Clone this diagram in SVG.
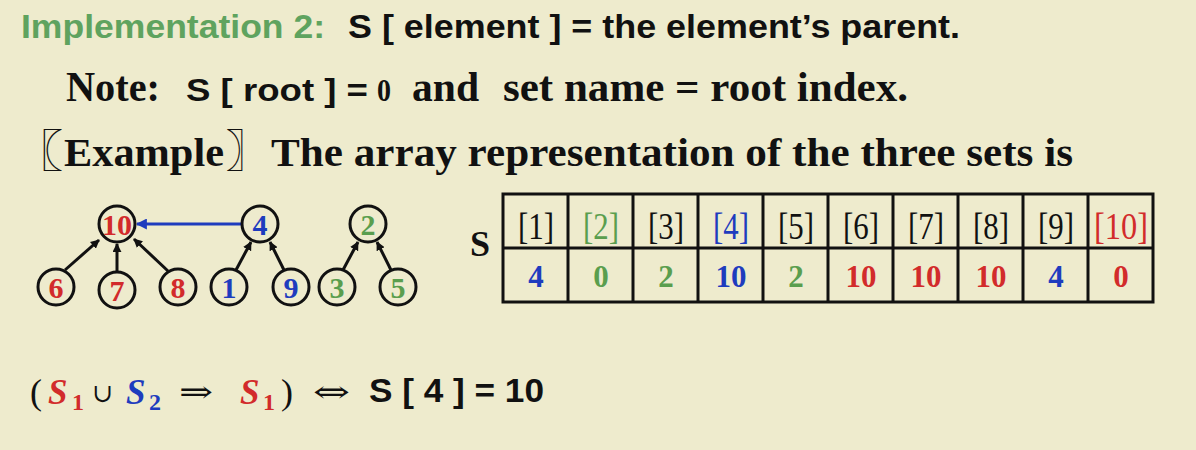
<svg xmlns="http://www.w3.org/2000/svg" width="1196" height="450" viewBox="0 0 1196 450">
<defs>
<style>
.sans{font-family:"Liberation Sans",Arial,sans-serif;font-weight:bold}
.serif{font-family:"Liberation Serif","Times New Roman","Noto Sans CJK SC",serif;font-weight:bold}
.reg{font-family:"Liberation Serif","Times New Roman",serif;font-weight:normal}
.sym{font-family:"DejaVu Serif","DejaVu Sans",serif;font-weight:normal}
.cjk{font-family:"Noto Sans CJK SC","Noto Sans CJK JP",sans-serif;font-weight:bold}
.k{fill:#111}
.r{fill:#D22B2B}
.b{fill:#1E3CBE}
.g{fill:#5A9E4E}
.node circle{fill:none;stroke:#111;stroke-width:3}
.node text{font-family:"Liberation Serif","Times New Roman",serif;font-weight:bold;font-size:30px;text-anchor:middle}
.edge{stroke:#111;stroke-width:3;fill:none}
.cell{fill:none;stroke:#111;stroke-width:3}
.hdr{font-family:"Liberation Serif","Times New Roman",serif;font-size:38px;text-anchor:middle}
.val{font-family:"Liberation Serif","Times New Roman",serif;font-weight:bold;font-size:31px;text-anchor:middle}
</style>
<marker id="ah" viewBox="0 0 10 10" refX="9" refY="5" markerWidth="9" markerHeight="9" markerUnits="userSpaceOnUse" orient="auto">
<path d="M0,0 L10,5 L0,10 z" fill="#111"/>
</marker>
<marker id="ahb" viewBox="0 0 10 10" refX="9" refY="5" markerWidth="11" markerHeight="11" markerUnits="userSpaceOnUse" orient="auto">
<path d="M0,0 L10,5 L0,10 z" fill="#1E3CBE"/>
</marker>
</defs>
<rect width="1196" height="450" fill="#EEEBCD"/>

<g id="title">
<text x="21" y="38" class="sans" font-size="33" fill="#5FA35F" textLength="304" lengthAdjust="spacingAndGlyphs">Implementation 2:</text>
<text x="348" y="38" class="sans k" font-size="33" textLength="612" lengthAdjust="spacingAndGlyphs">S [ element ] = the element’s parent.</text>
</g>

<g id="note">
<text x="66" y="101" class="serif k" font-size="42" textLength="94" lengthAdjust="spacingAndGlyphs">Note:</text>
<text x="186" y="101" class="sans k" font-size="31" textLength="182" lengthAdjust="spacingAndGlyphs">S [ root ] =</text>
<text x="377" y="101" class="serif k" font-size="32" textLength="14" lengthAdjust="spacingAndGlyphs">0</text>
<text x="412" y="101" class="serif k" font-size="42" textLength="67" lengthAdjust="spacingAndGlyphs">and</text>
<text x="503" y="101" class="serif k" font-size="42" textLength="405" lengthAdjust="spacingAndGlyphs">set name = root index.</text>
</g>

<g id="example">
<text x="11" y="167" class="cjk k" font-size="44" textLength="52" lengthAdjust="spacingAndGlyphs">〖</text>
<text x="64" y="166" class="serif k" font-size="40" textLength="160" lengthAdjust="spacingAndGlyphs">Example</text>
<text x="226" y="167" class="cjk k" font-size="44" textLength="44" lengthAdjust="spacingAndGlyphs">〗</text>
<text x="271" y="166" class="serif k" font-size="40" textLength="802" lengthAdjust="spacingAndGlyphs">The array representation of the three sets is</text>
</g>

<g id="connectors">
<line class="edge" x1="65" y1="270" x2="99" y2="240" marker-end="url(#ah)"/>
<line class="edge" x1="117" y1="273" x2="117" y2="244" marker-end="url(#ah)"/>
<line class="edge" x1="168" y1="271" x2="134" y2="239" marker-end="url(#ah)"/>
<line x1="242" y1="224" x2="137" y2="224" stroke="#1E3CBE" stroke-width="3" marker-end="url(#ahb)"/>
<line class="edge" x1="236" y1="270" x2="251" y2="242" marker-end="url(#ah)"/>
<line class="edge" x1="284" y1="270" x2="270" y2="242" marker-end="url(#ah)"/>
<line class="edge" x1="343" y1="270" x2="358" y2="242" marker-end="url(#ah)"/>
<line class="edge" x1="391" y1="270" x2="377" y2="242" marker-end="url(#ah)"/>
</g>

<g id="n10" class="node"><circle cx="117" cy="224" r="18"/><text x="117" y="235" class="r" textLength="30" lengthAdjust="spacingAndGlyphs">10</text></g>
<g id="n4" class="node"><circle cx="260" cy="224" r="18"/><text x="260" y="235" class="b">4</text></g>
<g id="n2" class="node"><circle cx="368" cy="224" r="18"/><text x="368" y="235" class="g">2</text></g>
<g id="n6" class="node"><circle cx="56" cy="287" r="18"/><text x="56" y="298" class="r">6</text></g>
<g id="n7" class="node"><circle cx="117" cy="290" r="18"/><text x="117" y="301" class="r">7</text></g>
<g id="n8" class="node"><circle cx="178" cy="287" r="18"/><text x="178" y="298" class="r">8</text></g>
<g id="n1" class="node"><circle cx="229" cy="287" r="18"/><text x="229" y="298" class="b">1</text></g>
<g id="n9" class="node"><circle cx="291" cy="287" r="18"/><text x="291" y="298" class="b">9</text></g>
<g id="n3" class="node"><circle cx="337" cy="287" r="18"/><text x="337" y="298" class="g">3</text></g>
<g id="n5" class="node"><circle cx="398" cy="287" r="18"/><text x="398" y="298" class="g">5</text></g>

<g id="array">
<text x="470" y="256" class="serif k" font-size="36">S</text>
<rect class="cell" x="503" y="194" width="650" height="108"/>
<line class="cell" x1="503" y1="248" x2="1153" y2="248"/>
<line class="cell" x1="568" y1="194" x2="568" y2="302"/>
<line class="cell" x1="633" y1="194" x2="633" y2="302"/>
<line class="cell" x1="698" y1="194" x2="698" y2="302"/>
<line class="cell" x1="763" y1="194" x2="763" y2="302"/>
<line class="cell" x1="828" y1="194" x2="828" y2="302"/>
<line class="cell" x1="893" y1="194" x2="893" y2="302"/>
<line class="cell" x1="958" y1="194" x2="958" y2="302"/>
<line class="cell" x1="1023" y1="194" x2="1023" y2="302"/>
<line class="cell" x1="1088" y1="194" x2="1088" y2="302"/>
<text x="536" y="239" class="hdr k" textLength="36" lengthAdjust="spacingAndGlyphs">[1]</text>
<text x="601" y="239" class="hdr g" textLength="36" lengthAdjust="spacingAndGlyphs">[2]</text>
<text x="666" y="239" class="hdr k" textLength="36" lengthAdjust="spacingAndGlyphs">[3]</text>
<text x="731" y="239" class="hdr b" textLength="36" lengthAdjust="spacingAndGlyphs">[4]</text>
<text x="796" y="239" class="hdr k" textLength="36" lengthAdjust="spacingAndGlyphs">[5]</text>
<text x="861" y="239" class="hdr k" textLength="36" lengthAdjust="spacingAndGlyphs">[6]</text>
<text x="926" y="239" class="hdr k" textLength="36" lengthAdjust="spacingAndGlyphs">[7]</text>
<text x="991" y="239" class="hdr k" textLength="36" lengthAdjust="spacingAndGlyphs">[8]</text>
<text x="1056" y="239" class="hdr k" textLength="36" lengthAdjust="spacingAndGlyphs">[9]</text>
<text x="1121" y="239" class="hdr r" textLength="54" lengthAdjust="spacingAndGlyphs">[10]</text>
<text x="536" y="287" class="val b">4</text>
<text x="601" y="287" class="val g">0</text>
<text x="666" y="287" class="val g">2</text>
<text x="731" y="287" class="val b">10</text>
<text x="796" y="287" class="val g">2</text>
<text x="861" y="287" class="val r">10</text>
<text x="926" y="287" class="val r">10</text>
<text x="991" y="287" class="val r">10</text>
<text x="1056" y="287" class="val b">4</text>
<text x="1121" y="287" class="val r">0</text>
</g>

<g id="formula">
<text x="30" y="404" class="reg k" font-size="36">(</text>
<text x="48" y="404" class="serif r" font-size="35" font-style="italic">S</text>
<text x="72" y="410" class="serif r" font-size="24">1</text>
<text x="92" y="402" class="sym k" font-size="26" textLength="21" lengthAdjust="spacingAndGlyphs">∪</text>
<text x="126" y="404" class="serif b" font-size="35" font-style="italic">S</text>
<text x="149" y="410" class="serif b" font-size="24">2</text>
<text x="179" y="402" class="sym k" font-size="30" textLength="34" lengthAdjust="spacingAndGlyphs">⇒</text>
<text x="240" y="404" class="serif r" font-size="35" font-style="italic">S</text>
<text x="263" y="410" class="serif r" font-size="24">1</text>
<text x="281" y="404" class="reg k" font-size="36">)</text>
<text x="313" y="402" class="sym k" font-size="30" textLength="37" lengthAdjust="spacingAndGlyphs">⇔</text>
<text x="369" y="402" class="sans k" font-size="33" textLength="175" lengthAdjust="spacingAndGlyphs">S [ 4 ] = 10</text>
</g>
</svg>
